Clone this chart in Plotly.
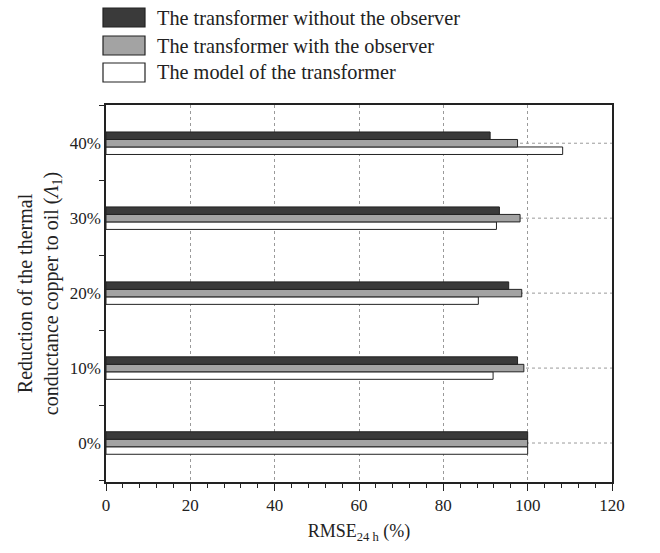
import plotly.graph_objects as go

categories = ["0%", "10%", "20%", "30%", "40%"]
without_observer = [100, 97.6, 95.5, 93.3, 91.1]
with_observer = [100, 99.1, 98.6, 98.2, 97.6]
model = [100, 91.8, 88.3, 92.6, 108.3]

names = ["The transformer without the observer",
         "The transformer with the observer",
         "The model of the transformer"]
fills = ["#3a3a3a", "#a3a3a3", "#ffffff"]

FONT = "Liberation Serif"
W, H = 660, 553
L, R, T, B = 106, 48, 105, 71
PW, PH = W - L - R, H - T - B

def px(x):
    return (x - L) / PW

def py(y):
    return (H - B - y) / PH

fig = go.Figure()
# bottom-to-top in each group: model, with observer, without observer
series = [without_observer, with_observer, model]
for i in [2, 1, 0]:
    fig.add_trace(go.Bar(y=categories, x=series[i], orientation="h", name=names[i],
                         showlegend=False,
                         marker=dict(color=fills[i], line=dict(color="#222222", width=1))))

shapes = []
for c in categories:
    shapes.append(dict(type="line", xref="x", yref="y", x0=0, x1=120, y0=c, y1=c,
                       line=dict(color="#9a9a9a", width=1, dash="dot"), layer="below"))

annotations = []
box_tops = [8, 36, 63]
for i, name in enumerate(names):
    t0 = box_tops[i]
    shapes.append(dict(type="rect", xref="paper", yref="paper",
                       x0=px(103), x1=px(145), y0=py(t0 + 19), y1=py(t0),
                       fillcolor=fills[i], line=dict(color="#222222", width=1.2)))
    annotations.append(dict(xref="paper", yref="paper", x=px(155), y=py(t0 + 9.5),
                            xanchor="left", yanchor="middle", showarrow=False,
                            text=name, font=dict(family=FONT, size=20.3, color="#222222")))

fig.update_layout(
    width=W, height=H,
    margin=dict(l=L, r=R, t=T, b=B),
    paper_bgcolor="white", plot_bgcolor="white",
    barmode="group", bargap=0.7, bargroupgap=0,
    font=dict(family=FONT, size=17, color="#222222"),
    shapes=shapes, annotations=annotations,
    showlegend=False,
    xaxis=dict(range=[0, 120], dtick=20, tick0=0,
               showline=True, linecolor="#222222", linewidth=1.5, mirror=True,
               ticks="outside", ticklen=7, tickcolor="#222222",
               showgrid=True, gridcolor="#9a9a9a", griddash="dot", gridwidth=1,
               zeroline=False,
               minor=dict(dtick=4, ticks="outside", ticklen=4, tickcolor="#222222", showgrid=False),
               title=dict(text="RMSE<sub>24 h</sub> (%)", font=dict(size=18), standoff=10)),
    yaxis=dict(type="category", categoryorder="array", categoryarray=categories,
               range=[-0.52, 4.51], tickson="boundaries",
               showline=True, linecolor="#222222", linewidth=1.5, mirror=True,
               ticks="outside", ticklen=5, tickcolor="#222222",
               showgrid=False, zeroline=False,
               title=dict(text="Reduction of the thermal<br>conductance copper to oil (<i>Λ</i><sub>1</sub>)",
                          font=dict(size=20), standoff=6)),
)

fig.write_html("out.html")
